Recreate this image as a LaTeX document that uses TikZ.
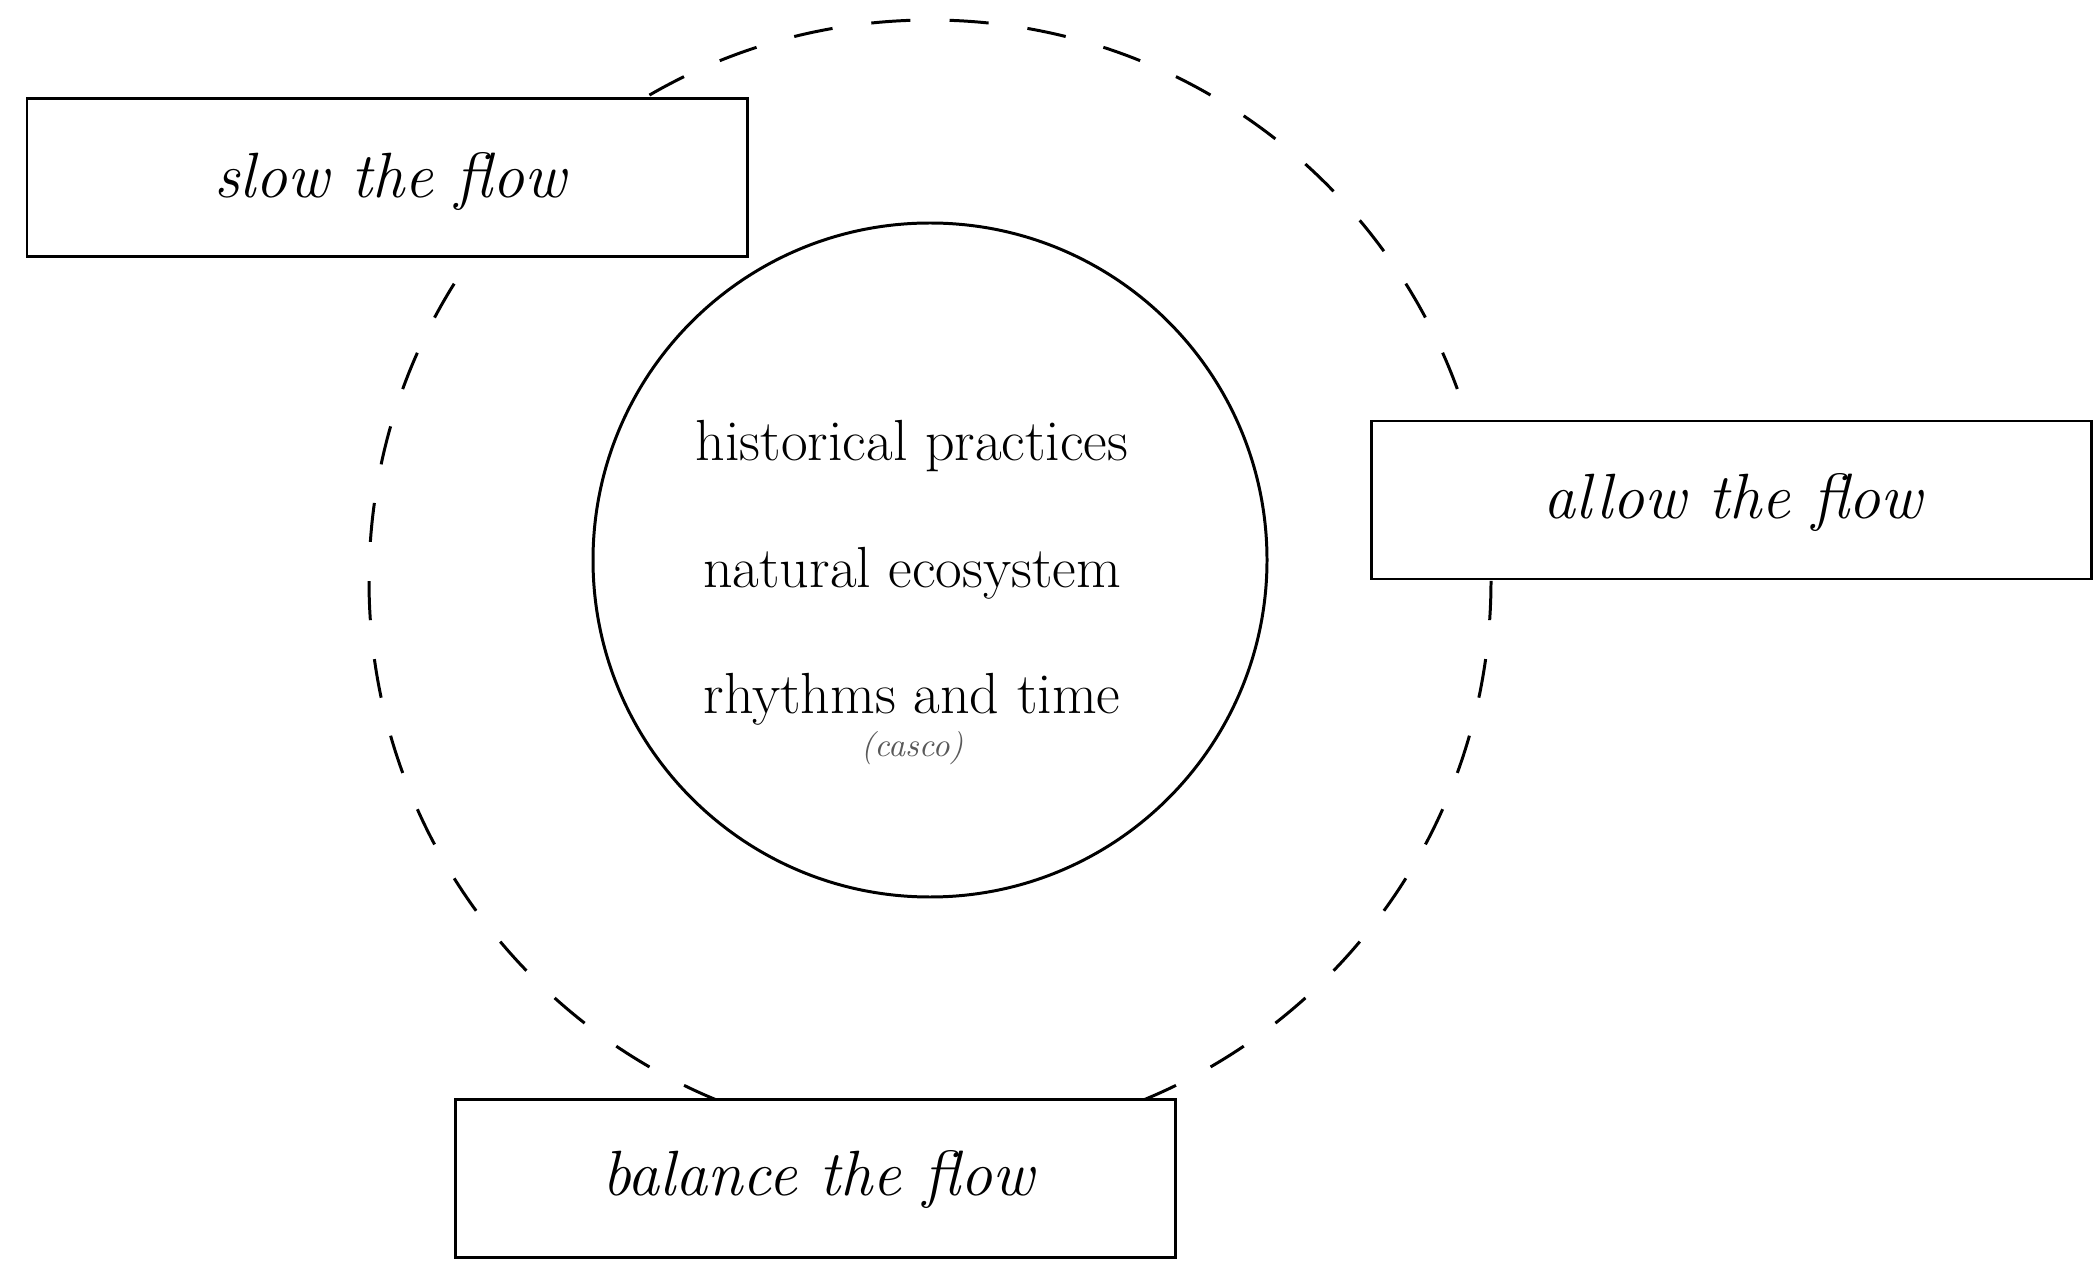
\documentclass[tikz,border=0pt]{standalone}
\usepackage{fontspec}
\begin{document}
\begin{tikzpicture}[x=0.1mm,y=-0.1mm,
  flowbox/.style={draw=black, fill=white, line width=0.85pt, minimum width=72mm, minimum height=15.8mm, inner sep=0pt},
  flowtext/.style={font=\fontsize{18.2}{21}\selectfont\itshape, inner sep=0pt},
  coretext/.style={font=\fontsize{16.5}{19}\selectfont, inner sep=0pt},
  smalltext/.style={font=\fontsize{9.5}{11}\selectfont\itshape, text=black!65, inner sep=0pt}]
\useasboundingbox (0,0) rectangle (2100,1267);
% outer dashed ring
\coordinate (ringc) at (930,581);
\draw[line width=0.85pt, dash pattern=on 3.917mm off 3.917mm, dash phase=3.91mm] (ringc) circle[radius=56.1mm];
% inner circle
\node[draw, circle, line width=0.85pt, minimum size=67.4mm, inner sep=0pt] (core) at (930,560) {};
\node[coretext] (hist) at (912,446) {historical practices};
\node[coretext] (nat) at (912,573) {natural ecosystem};
\node[coretext] (rhy) at (912,699) {rhythms and time};
\node[smalltext] (casco) at (912,748) {(casco)};
% boxes
\node[flowbox] (slow) at (387,178) {};
\node[flowtext] (slowt) at (390,182) {slow the flow};
\node[flowbox] (allow) at (1731,500) {};
\node[flowtext] (allowt) at (1733,503) {allow the flow};
\node[flowbox] (bal) at (815.5,1178) {};
\node[flowtext] (balt) at (818,1180) {balance the flow};
\end{tikzpicture}
\end{document}
